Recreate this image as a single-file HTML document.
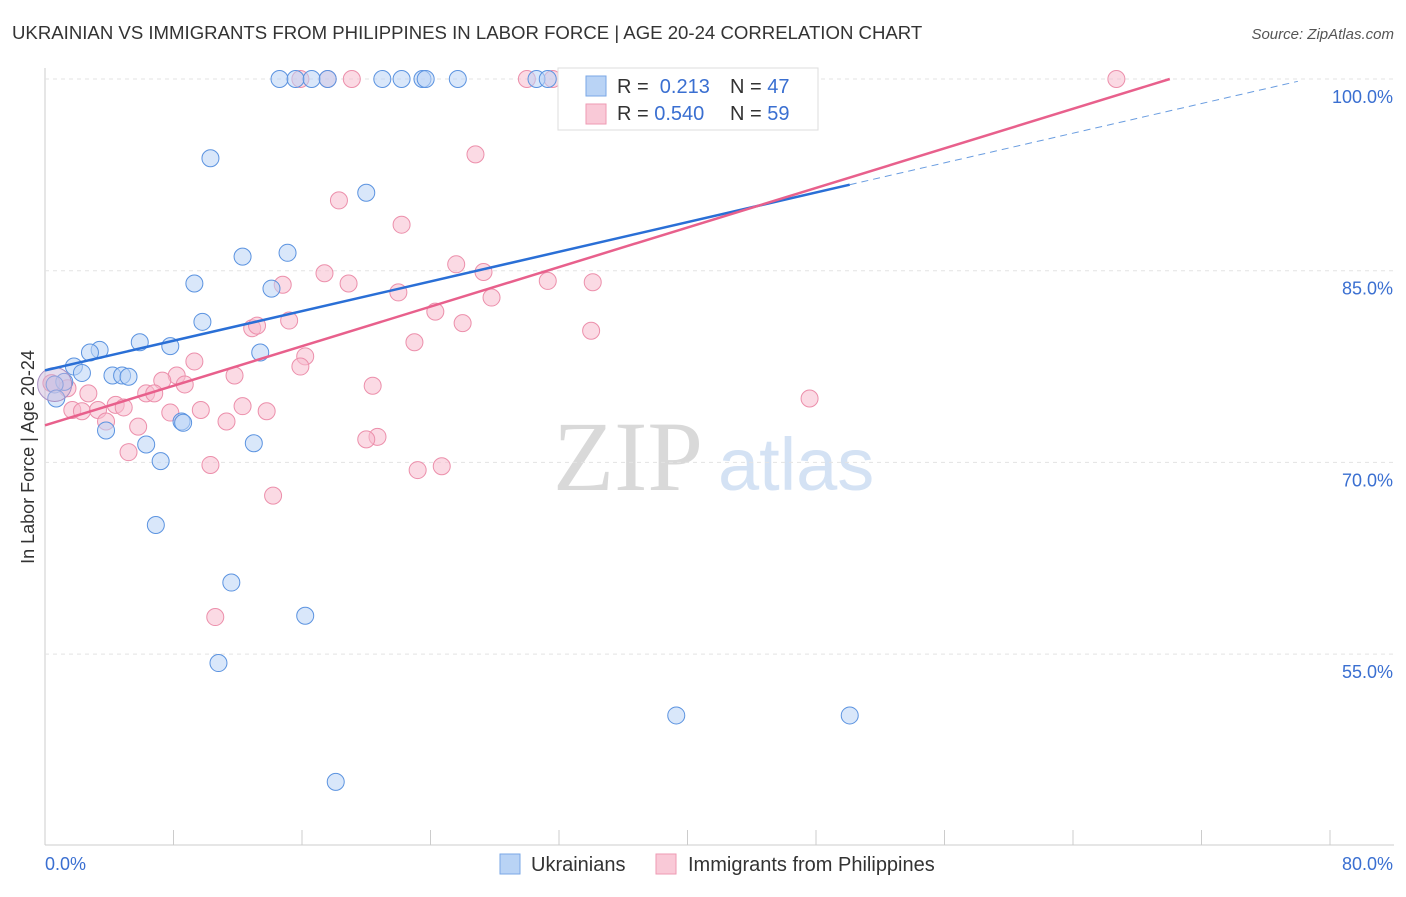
<!DOCTYPE html>
<html><head><meta charset="utf-8"><style>
body{margin:0;background:#fff;font-family:"Liberation Sans",sans-serif;}
svg text{font-family:"Liberation Sans",sans-serif;}
</style></head><body>
<svg id="c" width="1406" height="892">
<text x="12" y="39" font-size="18.6" fill="#333">UKRAINIAN VS IMMIGRANTS FROM PHILIPPINES IN LABOR FORCE | AGE 20-24 CORRELATION CHART</text>
<text x="1394" y="39" font-size="15" fill="#555" text-anchor="end" font-style="italic">Source: ZipAtlas.com</text>
<text x="553" y="490" font-size="100" fill="#d9d9d9" style="font-family:'Liberation Serif',serif">ZIP</text>
<text x="718" y="490" font-size="74" fill="#d4e2f4">atlas</text>
<text x="34" y="457" font-size="18" fill="#333" transform="rotate(-90 34 457)" text-anchor="middle">In Labor Force | Age 20-24</text>
<g id="grid"></g><g id="marks"></g>
<g>
<rect x="558" y="68" width="260" height="62" fill="#fff" stroke="#ddd"/>
<rect x="586" y="76" width="20" height="20" fill="#b9d3f5" stroke="#7aa7e6"/>
<rect x="586" y="104" width="20" height="20" fill="#f9c9d7" stroke="#ee9ab3"/>
<text x="617" y="93" font-size="20" fill="#333">R = <tspan fill="#3a6fd1">&#160;0.213</tspan></text>
<text x="730" y="93" font-size="20" fill="#333">N = <tspan fill="#3a6fd1">47</tspan></text>
<text x="617" y="120" font-size="20" fill="#333">R = <tspan fill="#3a6fd1">0.540</tspan></text>
<text x="730" y="120" font-size="20" fill="#333">N = <tspan fill="#3a6fd1">59</tspan></text>
</g>
<g>
<rect x="500" y="854" width="20" height="20" fill="#b9d3f5" stroke="#7aa7e6"/>
<text x="531" y="871" font-size="20" fill="#333">Ukrainians</text>
<rect x="656" y="854" width="20" height="20" fill="#f9c9d7" stroke="#ee9ab3"/>
<text x="688" y="871" font-size="20" fill="#333">Immigrants from Philippines</text>
</g>
</svg>
<script>
const xTicks=[0,8,16,24,32,40,48,56,64,72,80];
const yTicks=[55,70,85,100];
const blueX=[14.6,15.6,16.6,17.6,21.0,22.2,23.5,23.7,25.7,30.6,31.3,33.2,10.3,20.0,12.3,15.1,9.3,14.1,9.8,5.9,7.8,3.4,2.8,13.4,1.8,2.3,4.2,4.8,5.2,1.2,0.6,0.7,8.5,8.6,3.8,6.3,13.0,7.2,6.9,11.6,16.2,10.8,39.3,50.1,18.1];
const blueY=[100,100,100,100,100,100,100,100,100,100,100,100,93.8,91.1,86.1,86.4,84.0,83.6,81.0,79.4,79.1,78.8,78.6,78.6,77.5,77.0,76.8,76.8,76.7,76.3,76.1,75.0,73.2,73.1,72.5,71.4,71.5,70.1,65.1,60.6,58.0,54.3,50.2,50.2,45.0];
const pinkX=[15.9,17.6,19.1,30.0,31.6,66.7,26.8,18.3,22.2,25.6,27.3,17.4,14.8,18.9,31.3,34.1,22.0,27.8,24.3,15.2,26.0,12.9,13.2,34.0,23.0,16.2,9.3,15.9,11.8,8.2,7.3,8.7,0.4,1.4,2.7,20.4,6.3,6.8,47.6,4.4,12.3,4.9,1.7,2.3,3.3,9.7,13.8,7.8,3.8,11.3,5.8,20.7,20.0,5.2,10.3,24.7,23.2,14.2,10.6];
const pinkY=[100,100,100,100,100,100,94.1,90.5,88.6,85.5,84.9,84.8,83.9,84.0,84.2,84.1,83.3,82.9,81.8,81.1,80.9,80.5,80.7,80.3,79.4,78.3,77.9,77.5,76.8,76.8,76.4,76.1,76.2,75.8,75.4,76.0,75.4,75.4,75.0,74.5,74.4,74.3,74.1,74.0,74.1,74.1,74.0,73.9,73.2,73.2,72.8,72.0,71.8,70.8,69.8,69.7,69.4,67.4,57.9];
const blueTrend=[77.2,0.29], pinkTrend=[72.9,0.387];
const NS='http://www.w3.org/2000/svg';
const sx=v=>45+v/80*1285, sy=v=>79+(100-v)/15*191.7;
function mk(t,a,p){const e=document.createElementNS(NS,t);for(const k in a)e.setAttribute(k,a[k]);p.appendChild(e);return e;}
const g=document.getElementById('grid'), m=document.getElementById('marks');
mk('line',{x1:45,y1:68,x2:45,y2:845,stroke:'#ccc'},g);
mk('line',{x1:45,y1:845,x2:1394,y2:845,stroke:'#ccc'},g);
xTicks.forEach(t=>{const l=mk('line',{x1:sx(t),y1:830,x2:sx(t),y2:845,stroke:'#ccc'},g);

});
yTicks.forEach(t=>{const l=mk('line',{x1:45,y1:sy(t),x2:1394,y2:sy(t),stroke:'#e3e3e3','stroke-dasharray':'4,4'},g);


const tx=mk('text',{x:1393,y:sy(t)+24,'font-size':18,fill:'#3a6fd1','text-anchor':'end'},g);tx.textContent=t.toFixed(1)+'%';

});
[[0,45,'start'],[80,1393,'end']].forEach(([v,x,a])=>{const tx=mk('text',{x:x,y:870,'font-size':18,fill:'#3a6fd1','text-anchor':a},g);tx.textContent=v.toFixed(1)+'%';

});
function dots(X,Y,f,s,name){X.forEach((x,i)=>{const c=mk('circle',{cx:sx(x),cy:sy(Y[i]),r:8.5,fill:f,'fill-opacity':0.55,stroke:s,'stroke-width':1},m);

});}
dots(pinkX,pinkY,'#f7bccd','#ec8fab','philippines-point');
dots(blueX,blueY,'#b9d3f5','#5b93e0','ukrainian-point');
const bc=mk('circle',{cx:sx(0.6),cy:sy(76.1),r:17,fill:'#c9b3d9','fill-opacity':0.45,stroke:'#a88fc4'},m);


const bl=mk('line',{x1:sx(0),y1:sy(blueTrend[0]),x2:sx(50.1),y2:sy(blueTrend[0]+blueTrend[1]*50.1),stroke:'#2a6fd6','stroke-width':2.5},m);


const bd=mk('line',{x1:sx(50.1),y1:sy(blueTrend[0]+blueTrend[1]*50.1),x2:sx(78),y2:sy(blueTrend[0]+blueTrend[1]*78),stroke:'#6a9de0','stroke-width':1,'stroke-dasharray':'7,5'},m);


const xe=(100-pinkTrend[0])/pinkTrend[1];
const pl=mk('line',{x1:sx(0),y1:sy(pinkTrend[0]),x2:sx(xe),y2:sy(100),stroke:'#e8608c','stroke-width':2.5},m);


</script>
</body></html>
